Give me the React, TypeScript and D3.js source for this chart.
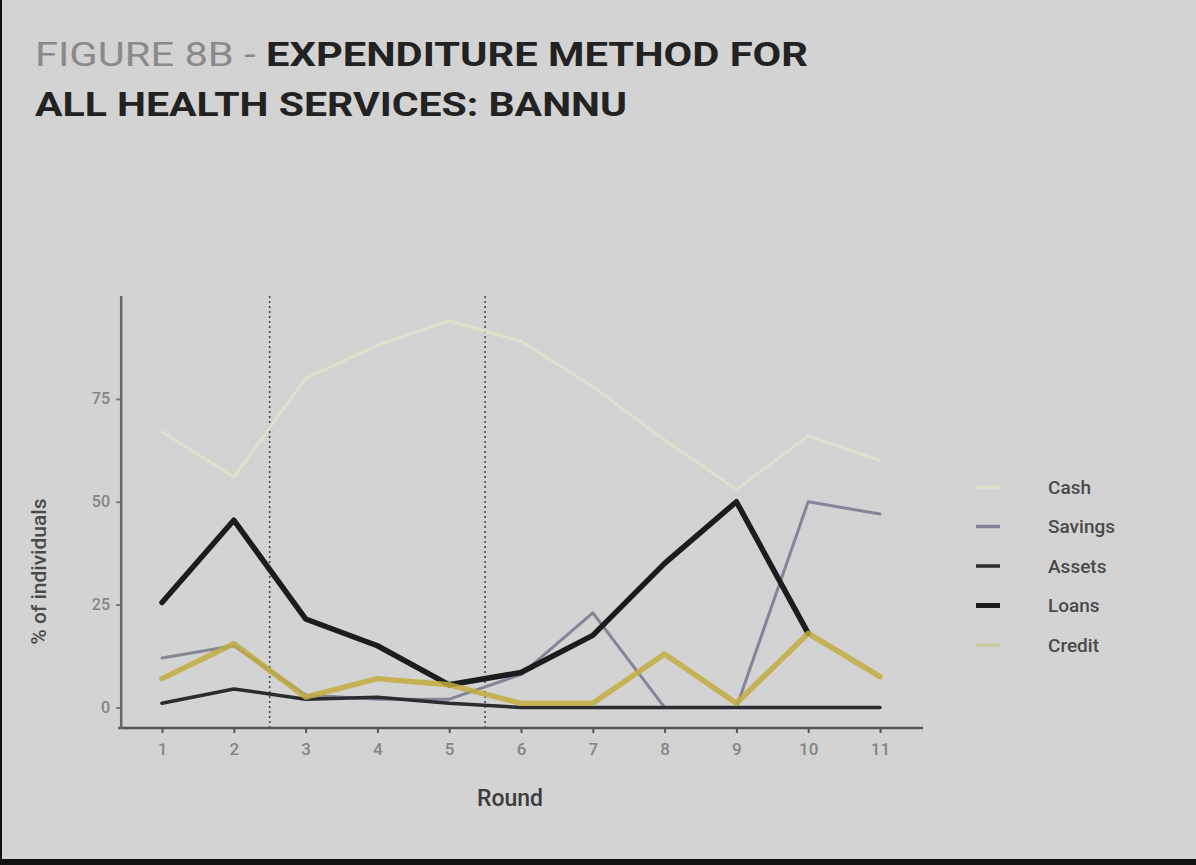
import { useEffect, useRef } from 'react';
import * as d3 from 'd3';

const rounds = [1, 2, 3, 4, 5, 6, 7, 8, 9, 10, 11];
const cash = [67, 56, 80, 88, 94, 89, 78, 65, 53, 66, 60];
const savings = [12, 15, 3, 2, 2, 8, 23, 0, 0, 50, 47];
const assets = [1, 4.5, 2, 2.5, 1, 0, 0, 0, 0, 0, 0];
const loans: (number | null)[] = [25.5, 45.5, 21.5, 15, 5.5, 8.5, 17.5, 35, 50, 18, null];
const credit = [7, 15.5, 2.5, 7, 5.5, 1, 1, 13, 1, 18, 7.5];
const yTicks = [0, 25, 50, 75];
const phaseBreaks = [2.5, 5.5];

const SERIES = [
  { name: 'Cash', values: cash, color: '#dfdfcc', width: 3, opacity: 1 },
  { name: 'Savings', values: savings, color: '#85859a', width: 3, opacity: 1 },
  { name: 'Assets', values: assets, color: '#2b2b30', width: 3.5, opacity: 1 },
  { name: 'Loans', values: loans, color: '#1c1c1c', width: 5.5, opacity: 1 },
  { name: 'Credit', values: credit, color: '#c2ab3e', width: 5.5, opacity: 0.85 },
];

const W = 1196;
const H = 865;
const FONT = "'Liberation Sans Narrow', 'Roboto', 'Liberation Sans', sans-serif";

export default function App() {
  const svgRef = useRef<SVGSVGElement>(null);

  useEffect(() => {
    if (!svgRef.current) return;
    const svg = d3.select(svgRef.current);
    svg.selectAll('*').remove();

    const x = d3.scaleLinear().domain([1, 11]).range([162, 880]);
    const y = d3.scaleLinear().domain([-5, 100]).range([728, 296]);

    // background + frame
    svg.append('rect').attr('width', W).attr('height', H).attr('fill', '#d3d3d3');
    svg.append('rect').attr('x', 0).attr('y', 0).attr('width', 2).attr('height', H).attr('fill', '#111');
    svg.append('rect').attr('x', 0).attr('y', 859).attr('width', W).attr('height', 6).attr('fill', '#111');

    // title
    const t1 = svg.append('text')
      .attr('x', 35).attr('y', 66)
      .attr('font-family', FONT).attr('font-size', 33).attr('font-weight', 'bold')
      .attr('textLength', 773).attr('lengthAdjust', 'spacingAndGlyphs');
    t1.append('tspan').attr('fill', '#8a8a8a').attr('font-weight', 'normal').text('FIGURE 8B - ');
    t1.append('tspan').attr('fill', '#222').text('EXPENDITURE METHOD FOR');
    svg.append('text')
      .attr('x', 35).attr('y', 116)
      .attr('font-family', FONT).attr('font-size', 33).attr('font-weight', 'bold')
      .attr('fill', '#222')
      .attr('textLength', 592).attr('lengthAdjust', 'spacingAndGlyphs')
      .text('ALL HEALTH SERVICES: BANNU');

    const g = svg.append('g');

    // phase separators
    g.selectAll('.phase')
      .data(phaseBreaks)
      .enter()
      .append('line')
      .attr('x1', (d) => x(d)).attr('x2', (d) => x(d))
      .attr('y1', y(100)).attr('y2', y(-5))
      .attr('stroke', '#4a4a4a')
      .attr('stroke-width', 1.6)
      .attr('stroke-dasharray', '2,3');

    // series lines
    const line = d3.line<number | null>()
      .defined((d) => d !== null)
      .x((_, i) => x(rounds[i]))
      .y((d) => y(d as number));

    SERIES.forEach((s) => {
      g.append('path')
        .datum(s.values)
        .attr('fill', 'none')
        .attr('stroke', s.color)
        .attr('stroke-width', s.width)
        .attr('stroke-opacity', s.opacity)
        .attr('stroke-linejoin', 'round')
        .attr('stroke-linecap', 'round')
        .attr('d', line);
    });

    // axes
    const xAxis = g.append('g')
      .attr('transform', `translate(0,${y(-5)})`)
      .call(d3.axisBottom(x).tickValues(rounds).tickSize(5).tickSizeOuter(0).tickFormat(d3.format('d')));
    xAxis.select('.domain').remove();
    xAxis.append('line')
      .attr('x1', x(0.39)).attr('x2', x(11.6))
      .attr('stroke', '#555').attr('stroke-width', 2.5);
    xAxis.selectAll('line').attr('stroke', '#555');
    xAxis.selectAll('.tick line').attr('stroke-width', 2);
    xAxis.selectAll('text')
      .attr('font-family', FONT).attr('font-size', 17).attr('font-weight', 500)
      .attr('fill', '#858585').attr('dy', '1.1em');

    const yAxis = g.append('g')
      .attr('transform', `translate(${x(0.39) + 3},0)`)
      .call(d3.axisLeft(y).tickValues(yTicks).tickSize(5).tickSizeOuter(0));
    yAxis.select('.domain').remove();
    yAxis.append('line')
      .attr('y1', y(100)).attr('y2', y(-5) + 1)
      .attr('stroke', '#666').attr('stroke-width', 2.5);
    yAxis.selectAll('.tick line').attr('stroke', '#777').attr('stroke-width', 2);
    yAxis.selectAll('text')
      .attr('font-family', FONT).attr('font-size', 16).attr('font-weight', 500)
      .attr('fill', '#858585').attr('dx', '-0.2em');

    // axis titles
    svg.append('text')
      .attr('x', 510).attr('y', 806)
      .attr('text-anchor', 'middle')
      .attr('font-family', FONT).attr('font-size', 23).attr('font-weight', 500).attr('fill', '#3c3c3c')
      .text('Round');
    svg.append('text')
      .attr('transform', `translate(46,${y(33)}) rotate(-90)`)
      .attr('text-anchor', 'middle')
      .attr('font-family', FONT).attr('font-size', 21).attr('font-weight', 500).attr('fill', '#4a4a4a')
      .text('% of individuals');

    // legend
    const legend = svg.append('g').attr('transform', 'translate(968,487)');
    SERIES.forEach((s, i) => {
      const row = legend.append('g').attr('transform', `translate(0,${i * 39.5})`);
      row.append('line')
        .attr('x1', 8).attr('x2', 32).attr('y1', 0).attr('y2', 0)
        .attr('stroke', s.name === 'Credit' ? '#c9c99a' : s.color)
        .attr('stroke-width', s.name === 'Loans' ? 5 : s.name === 'Credit' ? 3 : 3.5);
      row.append('text')
        .attr('x', 80).attr('y', 0).attr('dy', '0.35em')
        .attr('font-family', FONT).attr('font-size', 19).attr('font-weight', 500).attr('fill', '#4a4a4a')
        .text(s.name);
    });
  }, []);

  return (
    <svg
      ref={svgRef}
      width={W}
      height={H}
      style={{ position: 'absolute', left: 0, top: 0, display: 'block' }}
    />
  );
}
